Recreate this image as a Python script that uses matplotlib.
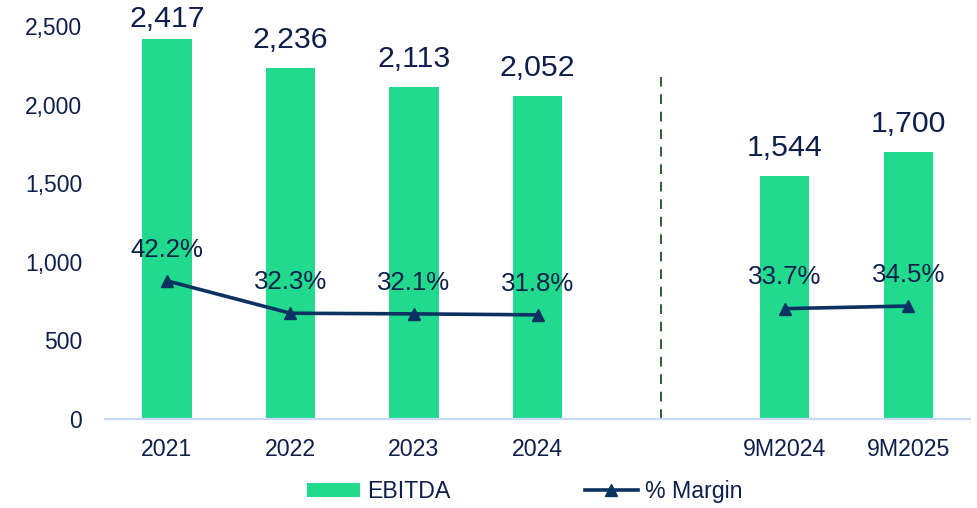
import matplotlib.pyplot as plt
from matplotlib.patches import Patch
from matplotlib.lines import Line2D

# data
categories = ['2021', '2022', '2023', '2024', '', '9M2024', '9M2025']
ebitda = [2417, 2236, 2113, 2052, None, 1544, 1700]
margin = [42.2, 32.3, 32.1, 31.8, None, 33.7, 34.5]
yticks = [0, 500, 1000, 1500, 2000, 2500]

BAR = '#21DA8E'
LINE = '#0C3261'
TEXT = '#0F1F4B'
AXIS = '#C9D8F7'

plt.rcParams['font.family'] = ['Liberation Sans', 'DejaVu Sans']

fig = plt.figure(figsize=(9.77, 5.08), dpi=100)
ax = fig.add_axes([0.1075, 0.1752, 0.8854, 0.7736])
ax2 = ax.twinx()

xs = list(range(len(categories)))
bx = [x for x, v in zip(xs, ebitda) if v is not None]
bv = [v for v in ebitda if v is not None]
ax.bar(bx, bv, width=0.4, color=BAR, zorder=2)

ax.set_xlim(-0.5, len(categories) - 0.5)
ax.set_ylim(0, 2500)
ax.set_yticks(yticks)
ax.set_yticklabels([f'{t:,}' for t in yticks])
ax.set_xticks(bx)
ax.set_xticklabels([c for c, v in zip(categories, ebitda) if v is not None])
ax.tick_params(axis='y', length=0, pad=16.5, labelsize=16.5, labelcolor=TEXT)
ax.tick_params(axis='x', length=0, pad=13.5, labelsize=16.7, labelcolor=TEXT)
for s in ['top', 'right', 'left']:
    ax.spines[s].set_visible(False)
ax.spines['bottom'].set_color(AXIS)
ax.spines['bottom'].set_linewidth(1.6)

# separator between full years and nine-month figures
gap = categories.index('')
ax.axvline(gap, ymin=0, ymax=0.87, color='#2F5E2F', linestyle=(0, (5, 4)),
           linewidth=1.4, zorder=1)

# bar value labels, pushed down if they would leave the figure
fig_h = fig.get_size_inches()[1] * fig.dpi
for x, v in zip(bx, bv):
    top_px = ax.transData.transform((x, v))[1]
    off_px = min(28, fig_h - 19 - top_px)
    ax.annotate(f'{v:,}', (x, v), xytext=(0, off_px * 72 / fig.dpi),
                textcoords='offset points', ha='center', va='center',
                fontsize=21.8, color=TEXT, annotation_clip=False)

# margin line, drawn in two segments around the gap
ax2.set_ylim(0, 120)
ax2.axis('off')
seg1 = [(x, m) for x, m in zip(xs[:gap], margin[:gap])]
seg2 = [(x, m) for x, m in zip(xs[gap + 1:], margin[gap + 1:])]
for seg in (seg1, seg2):
    ax2.plot([p[0] for p in seg], [p[1] for p in seg], color=LINE,
             linewidth=2.6, marker='^', markersize=9, zorder=3)
    for x, m in seg:
        ax2.annotate(f'{m:.1f}%', (x, m), xytext=(0, 22.5),
                     textcoords='offset points', ha='center', va='center',
                     fontsize=18.6, color=TEXT)

handles = [Patch(facecolor=BAR, edgecolor='none', label='EBITDA'),
           Line2D([], [], color=LINE, linewidth=2.6, marker='^',
                  markersize=9, label='% Margin')]
fig.legend(handles=handles, loc='center', bbox_to_anchor=(0.537, 0.032),
           ncol=2, frameon=False, fontsize=16.7, labelcolor=TEXT,
           handlelength=2.3, handleheight=0.6, handletextpad=0.3,
           columnspacing=5.8)

fig.savefig('out.png', dpi=100)
